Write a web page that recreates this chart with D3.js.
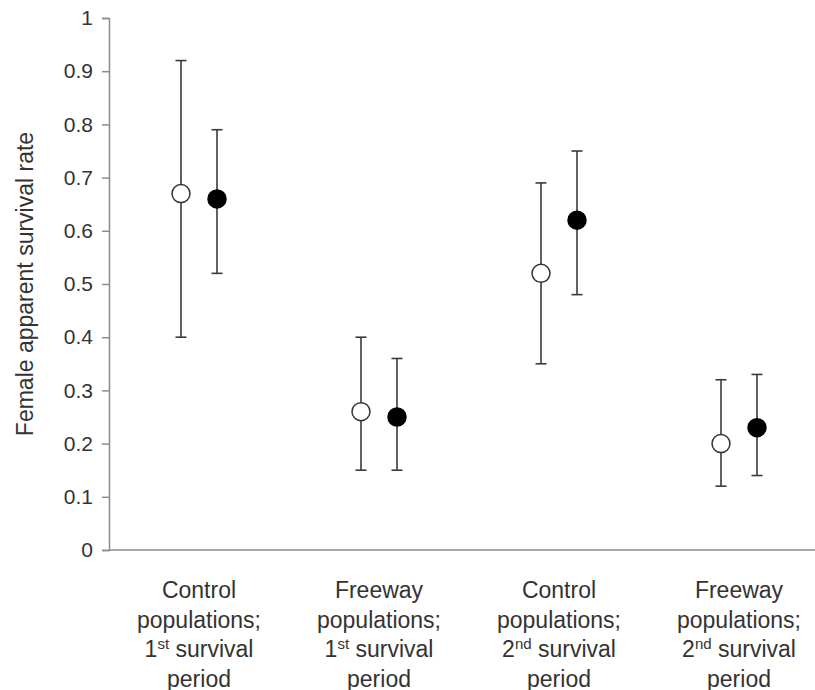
<!DOCTYPE html>
<html lang="en">
<head>
<meta charset="utf-8">
<script src="https://d3js.org/d3.v7.min.js"></script>
<style>
  body { margin: 0; background: #fff; }
  text { font-family: "Liberation Sans", Arial, sans-serif; fill: #333; }
</style>
</head>
<body>
<svg id="chart" width="815" height="690"></svg>
<script>
// categories (line by line, superscript marked in sup)
var groups = ["g1", "g2", "g3", "g4"];
var labelLines = [
  [["Control"], ["populations;"], ["1", "st", " survival"], ["period"]],
  [["Freeway"], ["populations;"], ["1", "st", " survival"], ["period"]],
  [["Control"], ["populations;"], ["2", "nd", " survival"], ["period"]],
  [["Freeway"], ["populations;"], ["2", "nd", " survival"], ["period"]]
];

// open circles
var openVal = [0.67, 0.26, 0.52, 0.20];
var openLow = [0.40, 0.15, 0.35, 0.12];
var openHigh = [0.92, 0.40, 0.69, 0.32];

// filled circles
var fillVal = [0.66, 0.25, 0.62, 0.23];
var fillLow = [0.52, 0.15, 0.48, 0.14];
var fillHigh = [0.79, 0.36, 0.75, 0.33];

var yTicks = [0, 0.1, 0.2, 0.3, 0.4, 0.5, 0.6, 0.7, 0.8, 0.9, 1];

var svg = d3.select("#chart");

var x = d3.scaleBand().domain(groups).range([109, 829]);
var y = d3.scaleLinear().domain([0, 1]).range([550, 18]);

// y axis
var yAxis = svg.append("g")
  .attr("transform", "translate(109,0)")
  .call(d3.axisLeft(y).tickValues(yTicks).tickSize(7).tickPadding(9)
    .tickFormat(function(d){ return d === 0 || d === 1 ? d : d3.format(".1f")(d); }));
yAxis.select(".domain").attr("stroke", "#8c8c8c").attr("stroke-width", 1.5);
yAxis.selectAll(".tick line").attr("stroke", "#8c8c8c").attr("stroke-width", 1.5);
yAxis.selectAll(".tick text").attr("font-size", "21px").attr("fill", "#333")
  .attr("font-family", "'Liberation Sans', Arial, sans-serif");

// x axis line
svg.append("line")
  .attr("x1", 109).attr("x2", 815)
  .attr("y1", y(0)).attr("y2", y(0))
  .attr("stroke", "#8c8c8c").attr("stroke-width", 1.5);

// y title
svg.append("text")
  .attr("transform", "translate(33," + y(0.5) + ") rotate(-90)")
  .attr("text-anchor", "middle")
  .attr("font-size", "23px")
  .text("Female apparent survival rate");

// x labels
labelLines.forEach(function(lines, i){
  var cx = x(groups[i]) + x.bandwidth() / 2;
  lines.forEach(function(parts, j){
    var t = svg.append("text")
      .attr("x", cx)
      .attr("y", 598 + j * 29.5)
      .attr("text-anchor", "middle")
      .attr("font-size", "23px");
    if (parts.length === 1) {
      t.text(parts[0]);
    } else {
      t.append("tspan").text(parts[0]);
      t.append("tspan").attr("font-size", "15px").attr("dy", -8).text(parts[1]);
      t.append("tspan").attr("dy", 8).text(parts[2]);
    }
  });
});

var off = 18;
function series(vals, lows, highs, dx, fill) {
  var g = svg.append("g");
  groups.forEach(function(k, i){
    var cx = x(k) + x.bandwidth() / 2 + dx;
    g.append("line")
      .attr("x1", cx).attr("x2", cx)
      .attr("y1", y(lows[i])).attr("y2", y(highs[i]))
      .attr("stroke", "#3a3a3a").attr("stroke-width", 1.6);
    [lows[i], highs[i]].forEach(function(v){
      g.append("line")
        .attr("x1", cx - 5.5).attr("x2", cx + 5.5)
        .attr("y1", y(v)).attr("y2", y(v))
        .attr("stroke", "#3a3a3a").attr("stroke-width", 1.6);
    });
    g.append("circle")
      .attr("cx", cx).attr("cy", y(vals[i]))
      .attr("r", 9)
      .attr("fill", fill)
      .attr("stroke", fill === "#fff" ? "#333" : "#000")
      .attr("stroke-width", 1.5);
  });
}
series(openVal, openLow, openHigh, -off, "#fff");
series(fillVal, fillLow, fillHigh, off, "#000");
</script>
</body>
</html>
